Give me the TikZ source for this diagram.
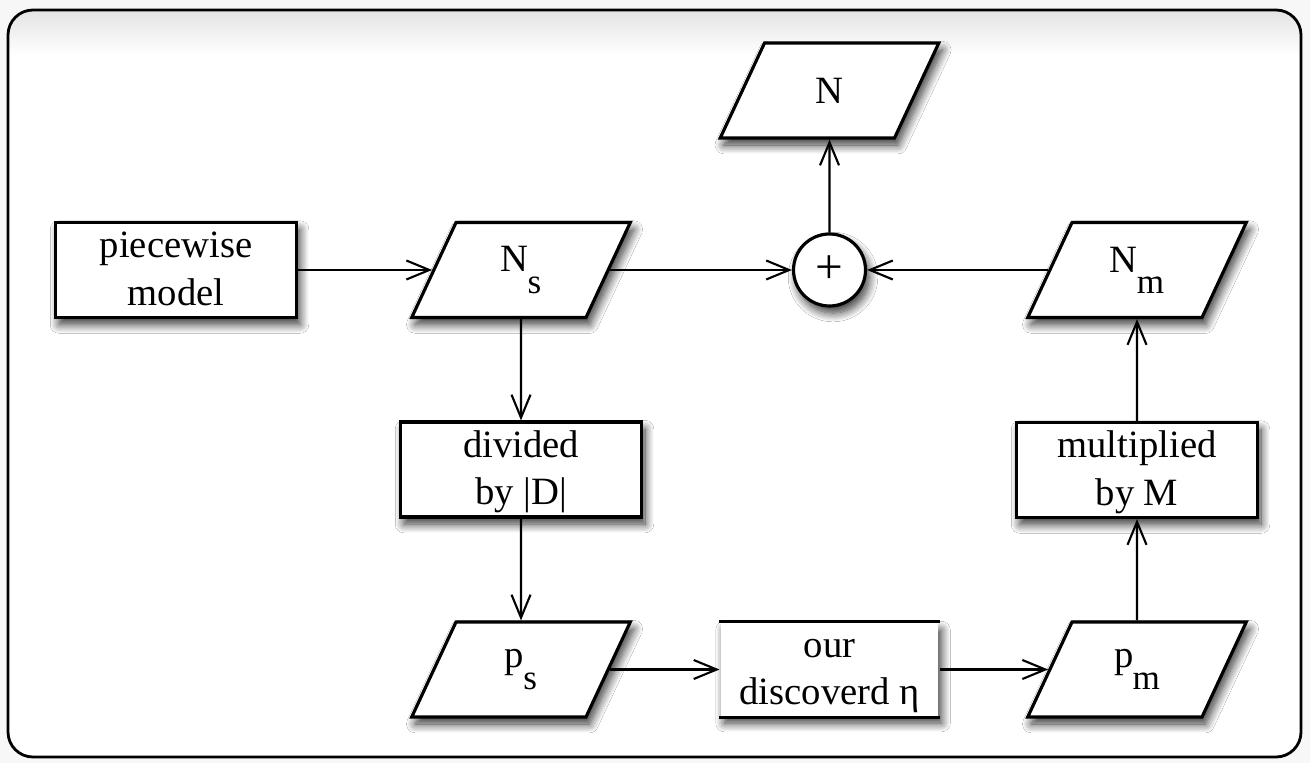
\documentclass[tikz,border=0pt]{standalone}
\usepackage{fontspec}
\setmainfont{Liberation Serif}
\usetikzlibrary{shapes.geometric,shadows.blur,arrows.meta}
\newcommand{\lowsub}[1]{\kern-0.5pt\raisebox{-0.55em}{\fontsize{20}{20}\selectfont #1}}
\tikzset{
    boxshadow/.style={
        blur shadow={shadow xshift=2pt, shadow yshift=-4pt,
                     shadow blur radius=5pt, shadow blur steps=12,
                     shadow opacity=80}
    },
    boxtext/.style={
        font=\fontsize{22}{27}\selectfont,
        inner sep=0pt,
        align=center
    },
    flowbox/.style={
        draw,
        rectangle,
        line width=1.8pt,
        fill=white,
        minimum width=4.82cm,
        minimum height=1.9cm,
        inner sep=0pt,
        boxshadow,
        label={[boxtext, yshift=-0.04cm]center:\strut #1\strut}
    },
    databox/.style={
        draw,
        trapezium,
        trapezium left angle=65,
        trapezium right angle=115,
        line width=1.8pt,
        fill=white,
        text width=2.6cm,
        text height=0.95cm,
        text depth=0.95cm,
        inner sep=0pt,
        boxshadow,
        label={[boxtext]center:#1}
    },
    sumcircle/.style={
        draw,
        circle,
        line width=1.8pt,
        fill=white,
        minimum size=1.44cm,
        inner sep=0pt,
        font=\fontsize{28}{28}\selectfont,
        boxshadow
    },
    flowarrow/.style={
        -{Straight Barb[length=4.6mm,width=3.8mm]},
        line width=1.2pt
    }
}

\begin{document}
\begin{tikzpicture}[x=0.02cm,y=-0.02cm]

% ---------------------------------------------------------
% Frame
% ---------------------------------------------------------
\useasboundingbox (0,0) rectangle (1310,763);
\fill[gray!6] (0,0) rectangle (1310,763);
\fill[white, rounded corners=0.5cm] (8,10) rectangle (1301,757);
\begin{scope}
    \clip[rounded corners=0.5cm] (8,10) rectangle (1301,757);
    \shade[top color=gray!22, bottom color=white] (8,10) rectangle (1301,55);
\end{scope}
\draw[line width=1.6pt, rounded corners=0.5cm] (8,10) rectangle (1301,757);

% ---------------------------------------------------------
% Top row
% ---------------------------------------------------------
\node[flowbox={piecewise\\model}] (piecewise) at (176,270) {};
\node[databox={N\lowsub{s}}] (Ns) at (521,270) {};
\node[sumcircle] (sum) at (829.5,270) {+};
\node[databox={N}] (N) at (829.5,90.5) {};
\node[databox={N\lowsub{m}}] (Nm) at (1137,270) {};

% ---------------------------------------------------------
% Middle and bottom rows
% ---------------------------------------------------------
\node[flowbox={divided\\by |D|}] (divided) at (521,469.5) {};
\node[flowbox={multiplied\\by M}] (multiplied) at (1137,470) {};
\node[databox={p\lowsub{s}}] (ps) at (521,669.5) {};
\node[databox={p\lowsub{m}}] (pm) at (1137,669.5) {};

% our discoverd eta: only top and bottom edges
\node[flowbox={our\\discoverd η}, draw=none,
      minimum width=4.34cm, minimum height=1.86cm]
    (eta) at (829.5,669.5) {};
\draw[line width=1.8pt] (eta.north west) -- (eta.north east)
                        (eta.south west) -- (eta.south east);

% ---------------------------------------------------------
% Connectors
% ---------------------------------------------------------
\draw[flowarrow] (piecewise) -- (Ns);
\draw[flowarrow] (Ns) -- (sum);
\draw[flowarrow] (Nm) -- (sum);
\draw[flowarrow] (sum) -- (N);
\draw[flowarrow] (Ns) -- (divided);
\draw[flowarrow] (divided) -- (ps);
\draw[flowarrow] (ps) -- (eta);
\draw[flowarrow] (eta) -- (pm);
\draw[flowarrow] (pm) -- (multiplied);
\draw[flowarrow] (multiplied) -- (Nm);

\end{tikzpicture}
\end{document}
